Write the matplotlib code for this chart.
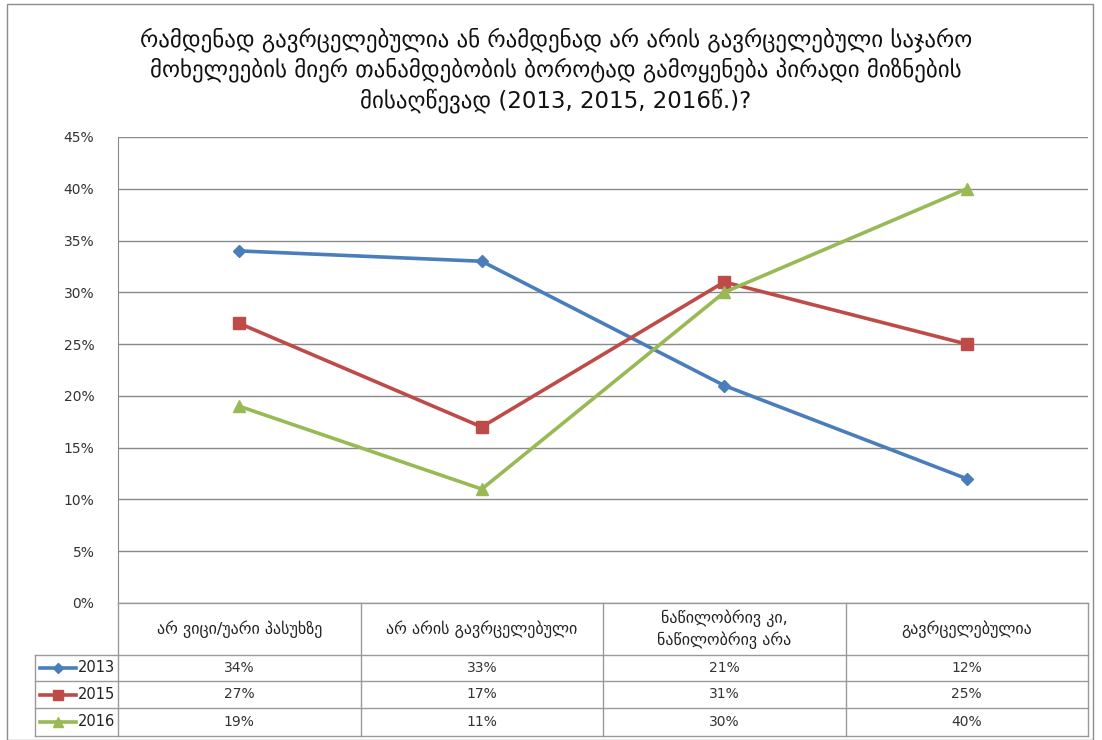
import matplotlib.pyplot as plt
from matplotlib.patches import Rectangle
from matplotlib.lines import Line2D

plt.rcParams['font.family'] = ['DejaVu Sans']

title = ("რამდენად გავრცელებულია ან რამდენად არ არის გავრცელებული საჯარო\n"
         "მოხელეების მიერ თანამდებობის ბოროტად გამოყენება პირადი მიზნების\n"
         "მისაღწევად (2013, 2015, 2016წ.)?")
categories = ["არ ვიცი/უარი პასუხზე", "არ არის გავრცელებული",
              "ნაწილობრივ კი,\nნაწილობრივ არა", "გავრცელებულია"]
years = ["2013", "2015", "2016"]
v2013 = [34, 33, 21, 12]
v2015 = [27, 17, 31, 25]
v2016 = [19, 11, 30, 40]
series = [v2013, v2015, v2016]
colors = ["#4A7EBB", "#BE4B48", "#98B954"]
markers = ["D", "s", "^"]
msizes = [6, 9, 9]

W, H = 1102, 740
fig = plt.figure(figsize=(W / 100, H / 100), dpi=100)

# outer chart border
fig.patches.append(Rectangle((7 / W, 0), (1093 - 7) / W, (H - 4) / H,
                             transform=fig.transFigure, fill=False,
                             edgecolor="#8c8c8c", lw=1.0))

fig.text(556 / W, 1 - 70 / H, title, ha="center", va="center",
         fontsize=16.5, linespacing=1.3, color="#111111")

left, right, top, bottom = 118, 1088, 137, 603
ax = fig.add_axes([left / W, 1 - bottom / H, (right - left) / W, (bottom - top) / H])
x = list(range(len(categories)))
for vals, c, m, ms in zip(series, colors, markers, msizes):
    ax.plot(x, vals, color=c, lw=2.6, marker=m, markersize=ms, zorder=3)
ax.set_xlim(-0.5, 3.5)
ax.set_ylim(0, 45)
ax.set_yticks(range(0, 46, 5))
ax.set_yticklabels([f"{t}%" for t in range(0, 46, 5)], fontsize=10, color="#333333")
ax.set_xticks([])
ax.tick_params(axis="y", length=0, pad=17)
ax.grid(axis="y", color="#8a8a8a", lw=1.0)
for s in ["top", "right", "bottom"]:
    ax.spines[s].set_visible(False)
ax.spines["left"].set_color("#8a8a8a")

# data table under the chart
tbot = 736
tax = fig.add_axes([left / W, 1 - tbot / H, (right - left) / W, (tbot - bottom) / H])
tax.set_xlim(-0.5, 3.5)
tax.set_ylim(tbot - bottom, 0)
tax.axis("off")
unit = (right - left) / 4
xleg = -0.5 - (left - 35) / unit
rows = [0, 52, 78, 105, 133]
lc = "#9a9a9a"

def seg(x0, x1, y0, y1):
    tax.add_line(Line2D([x0, x1], [y0, y1], color=lc, lw=1.0, clip_on=False))

seg(-0.5, 3.5, rows[0], rows[0])
for r in rows[1:]:
    seg(xleg, 3.5, r, r)
for k in range(5):
    seg(k - 0.5, k - 0.5, rows[0], rows[-1])
seg(xleg, xleg, rows[1], rows[-1])

for k, cat in enumerate(categories):
    tax.text(k, (rows[0] + rows[1]) / 2, cat, ha="center", va="center",
             fontsize=11.5, color="#222222", linespacing=1.3)

for i, (yr, vals, c, m, ms) in enumerate(zip(years, series, colors, markers, msizes)):
    yc = (rows[i + 1] + rows[i + 2]) / 2
    x0 = -0.5 - (left - 40) / unit
    x1 = -0.5 - (left - 76) / unit
    tax.add_line(Line2D([x0, x1], [yc, yc], color=c, lw=2.6, clip_on=False))
    tax.add_line(Line2D([(x0 + x1) / 2], [yc], color=c, marker=m,
                        markersize=ms * 0.85, clip_on=False))
    tax.text(-0.5 - 3 / unit, yc, yr, ha="right", va="center", fontsize=10.5,
             color="#222222")
    for k, v in enumerate(vals):
        tax.text(k, yc, f"{v}%", ha="center", va="center", fontsize=10,
                 color="#333333")

fig.savefig("out.png", dpi=100, facecolor="white")
